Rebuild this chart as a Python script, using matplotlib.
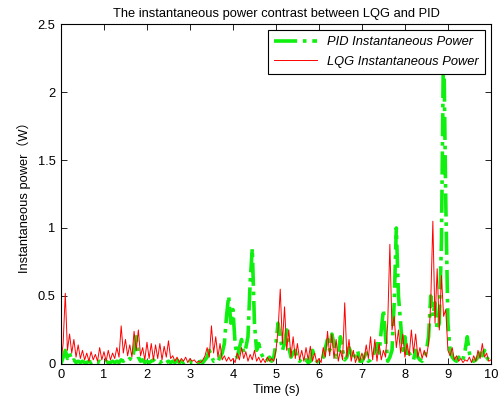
import numpy as np
import matplotlib
matplotlib.use("Agg")
import matplotlib.pyplot as plt
from matplotlib.ticker import FixedLocator

plt.rcParams['font.family'] = ['Liberation Sans', 'Noto Sans CJK SC', 'DejaVu Sans']
plt.rcParams['font.size'] = 9.3

# sample times (s), one value every 0.05 s
time = np.round(np.arange(0, 201) * 0.05, 2)

lqg_power = [
    0.02, 0.15, 0.52, 0.10, 0.22, 0.08, 0.18, 0.05, 0.14, 0.04, 0.10, 0.03, 0.08, 0.02, 0.09, 0.03, 0.07, 0.02, 0.12, 0.03,
    0.09, 0.02, 0.10, 0.03, 0.08, 0.04, 0.12, 0.05, 0.28, 0.08, 0.18, 0.06, 0.14, 0.05, 0.24, 0.10, 0.25, 0.06, 0.12, 0.03,
    0.16, 0.04, 0.15, 0.03, 0.14, 0.04, 0.15, 0.03, 0.13, 0.05, 0.17, 0.04, 0.06, 0.02, 0.05, 0.01, 0.04, 0.02, 0.05, 0.01,
    0.04, 0.02, 0.03, 0.01, 0.02, 0.01, 0.03, 0.06, 0.12, 0.05, 0.28, 0.08, 0.20, 0.05, 0.15, 0.03, 0.06, 0.02, 0.05, 0.02,
    0.04, 0.01, 0.08, 0.03, 0.12, 0.04, 0.09, 0.02, 0.07, 0.03, 0.10, 0.02, 0.05, 0.01, 0.04, 0.01, 0.05, 0.02, 0.04, 0.02,
    0.10, 0.25, 0.55, 0.15, 0.42, 0.10, 0.25, 0.05, 0.20, 0.04, 0.15, 0.03, 0.10, 0.02, 0.12, 0.03, 0.13, 0.02, 0.08, 0.01,
    0.04, 0.01, 0.12, 0.05, 0.24, 0.06, 0.22, 0.04, 0.18, 0.02, 0.10, 0.03, 0.45, 0.05, 0.18, 0.02, 0.10, 0.01, 0.06, 0.02,
    0.08, 0.03, 0.14, 0.04, 0.20, 0.03, 0.18, 0.02, 0.15, 0.03, 0.10, 0.05, 0.30, 0.88, 0.25, 0.35, 0.12, 0.25, 0.08, 0.22,
    0.05, 0.15, 0.06, 0.25, 0.08, 0.22, 0.05, 0.12, 0.04, 0.10, 0.05, 0.15, 0.45, 1.05, 0.30, 0.70, 0.25, 0.65, 0.35, 0.40,
    0.10, 0.06, 0.12, 0.03, 0.06, 0.02, 0.04, 0.01, 0.03, 0.02, 0.05, 0.01, 0.06, 0.02, 0.10, 0.04, 0.15, 0.05, 0.08, 0.02,
    0.03,
]

pid_power = [
    0.00, 0.05, 0.10, 0.04, 0.08, 0.02, 0.03, 0.01, 0.02, 0.01, 0.02, 0.01, 0.01, 0.02, 0.01, 0.02, 0.01, 0.01, 0.02, 0.01,
    0.01, 0.02, 0.01, 0.01, 0.02, 0.01, 0.02, 0.01, 0.03, 0.02, 0.03, 0.02, 0.04, 0.03, 0.10, 0.20, 0.05, 0.02, 0.03, 0.01,
    0.02, 0.01, 0.02, 0.03, 0.01, 0.02, 0.01, 0.02, 0.03, 0.01, 0.02, 0.01, 0.02, 0.01, 0.03, 0.01, 0.02, 0.01, 0.02, 0.01,
    0.02, 0.01, 0.01, 0.02, 0.01, 0.02, 0.01, 0.03, 0.05, 0.10, 0.06, 0.02, 0.03, 0.02, 0.05, 0.08, 0.15, 0.35, 0.50, 0.30,
    0.40, 0.15, 0.05, 0.12, 0.18, 0.08, 0.12, 0.20, 0.60, 0.85, 0.30, 0.10, 0.15, 0.08, 0.05, 0.02, 0.03, 0.05, 0.02, 0.05,
    0.15, 0.30, 0.20, 0.10, 0.15, 0.25, 0.12, 0.05, 0.08, 0.10, 0.03, 0.02, 0.04, 0.02, 0.03, 0.01, 0.02, 0.10, 0.05, 0.02,
    0.01, 0.02, 0.05, 0.12, 0.18, 0.10, 0.22, 0.15, 0.05, 0.08, 0.20, 0.10, 0.03, 0.05, 0.12, 0.08, 0.03, 0.06, 0.10, 0.02,
    0.02, 0.05, 0.08, 0.02, 0.03, 0.05, 0.10, 0.15, 0.08, 0.25, 0.40, 0.20, 0.02, 0.05, 0.10, 0.45, 1.00, 0.50, 0.30, 0.10,
    0.20, 0.05, 0.08, 0.05, 0.03, 0.10, 0.05, 0.03, 0.02, 0.05, 0.10, 0.20, 0.50, 0.35, 0.45, 0.25, 0.30, 0.90, 2.45, 1.20,
    0.30, 0.10, 0.05, 0.03, 0.02, 0.05, 0.02, 0.03, 0.10, 0.20, 0.08, 0.03, 0.02, 0.03, 0.05, 0.08, 0.06, 0.10, 0.05, 0.03,
    0.02,
]

x_ticks = [0, 1, 2, 3, 4, 5, 6, 7, 8, 9, 10]
y_ticks = [0, 0.5, 1, 1.5, 2, 2.5]
y_tick_labels = ['0', '0.5', '1', '1.5', '2', '2.5']

fig = plt.figure(figsize=(5.04, 4.08), dpi=100)
ax = fig.add_axes([0.121, 0.108, 0.853, 0.833])

ax.plot(time, pid_power, color='#10f010', linestyle='-.', linewidth=2.6,
        label='PID Instantaneous Power')
ax.plot(time, lqg_power, color='red', linewidth=0.7,
        label='LQG Instantaneous Power')

ax.set_xlim(0, 10)
ax.set_ylim(0, 2.5)
ax.xaxis.set_major_locator(FixedLocator(x_ticks))
ax.yaxis.set_major_locator(FixedLocator(y_ticks))
ax.set_yticklabels(y_tick_labels)
ax.tick_params(direction='in', top=True, right=True, length=4, width=0.6, pad=4)
for spine in ax.spines.values():
    spine.set_linewidth(0.8)

ax.set_title('The instantaneous power contrast between LQG and PID', fontsize=9.3, pad=5)
ax.set_xlabel('Time (s)', fontsize=9.3, labelpad=1.5)
ax.set_ylabel('Instantaneous power（W）', fontsize=9.3, labelpad=5)

leg = ax.legend(loc='upper right', prop={'style': 'italic', 'size': 9.3},
                handlelength=3.3, handletextpad=0.8, fancybox=False, framealpha=1,
                edgecolor='black', borderaxespad=0.45, borderpad=0.5,
                labelspacing=0.55)
leg.get_frame().set_linewidth(0.8)

fig.savefig('out.png', dpi=100)
